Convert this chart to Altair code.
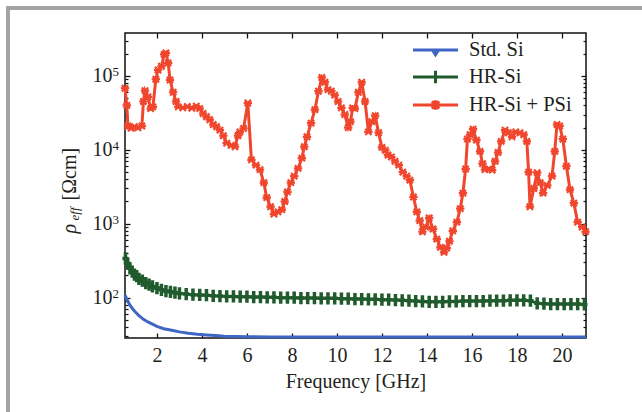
import altair as alt
import pandas as pd

# ---------------- data ----------------
series_names = ["Std. Si", "HR-Si", "HR-Si + PSi"]

std_f = [0.58, 0.7, 0.8, 0.9, 1.0, 1.2, 1.4, 1.6, 1.8, 2.0, 2.3, 2.6, 3.0, 3.4, 3.8,
         4.2, 4.6, 5.0, 5.5, 6.0, 7.0, 8.0, 9.0, 10.0, 12.0, 14.0, 16.0, 18.0, 20.0, 21.07]
std_r = [108, 90, 79, 72, 66, 57, 51, 47, 44, 41, 38, 36.5, 34.5, 33, 32,
         31.3, 30.7, 30.2, 29.9, 29.7, 29.5, 29.4, 29.3, 29.3, 29.3, 29.3, 29.3, 29.3, 29.3, 29.3]

hr_f = [0.6, 0.7, 0.8, 0.9, 1.0, 1.1, 1.2, 1.35, 1.5, 1.65, 1.8, 2.0, 2.2, 2.4, 2.6, 2.8,
        3.0, 3.3, 3.6, 3.9, 4.2, 4.5, 4.8, 5.1, 5.4, 5.7, 6.0, 6.3, 6.6, 6.9, 7.2, 7.5,
        7.8, 8.1, 8.4, 8.7, 9.0, 9.3, 9.6, 9.9, 10.2, 10.5, 10.8, 11.1, 11.4, 11.7, 12.0,
        12.3, 12.6, 12.9, 13.2, 13.5, 13.8, 14.1, 14.4, 14.7, 15.0, 15.3, 15.6, 15.9,
        16.2, 16.5, 16.8, 17.1, 17.4, 17.7, 18.0, 18.3, 18.6, 18.9, 19.2, 19.5, 19.8,
        20.1, 20.4, 20.7, 21.0]
hr_r = [340, 290, 250, 225, 205, 195, 180, 170, 158, 150, 142, 135, 128, 123, 120, 117,
        114, 112, 110, 109, 108, 106, 105, 104, 104, 103, 103, 102, 102, 101, 101, 100,
        100, 100, 99, 99, 99, 98, 98, 98, 97, 97, 96, 96, 95, 95, 94,
        94, 93, 92, 91, 90, 89, 88, 88, 88, 89, 89, 90, 90,
        90, 90, 91, 91, 91, 92, 92, 92, 91, 84, 83, 82, 82,
        82, 82, 82, 81]

psi_f = [0.58, 0.66, 0.71, 0.85, 1.0, 1.15, 1.33, 1.4, 1.47, 1.6, 1.72, 1.82, 1.95, 2.05,
         2.2, 2.32, 2.4, 2.5, 2.58, 2.72, 2.85, 2.95, 3.15, 3.35, 3.55, 3.75, 3.9, 4.05,
         4.2, 4.35, 4.5, 4.65, 4.8, 4.95, 5.1, 5.3, 5.47, 5.6, 5.69, 5.85, 6.04, 6.2,
         6.4, 6.58, 6.75, 6.88, 7.05, 7.2, 7.38, 7.55, 7.68, 7.8, 7.95, 8.1, 8.27, 8.44,
         8.55, 8.67, 8.85, 9.02, 9.18, 9.33, 9.47, 9.6, 9.75, 9.9, 10.05, 10.2, 10.35,
         10.5, 10.6, 10.7, 10.8, 10.95, 11.1, 11.25, 11.4, 11.55, 11.7, 11.85, 12.0,
         12.15, 12.27, 12.42, 12.58, 12.75, 12.93, 13.1, 13.24, 13.4, 13.55, 13.68, 13.8,
         13.95, 14.1, 14.27, 14.44, 14.6, 14.76, 14.88, 15.0, 15.15, 15.33, 15.48, 15.6,
         15.72, 15.8, 15.92, 16.05, 16.2, 16.36, 16.47, 16.58, 16.75, 16.9, 17.03, 17.16,
         17.3, 17.47, 17.62, 17.78, 17.95, 18.13, 18.3, 18.44, 18.52, 18.58, 18.75, 18.9,
         19.03, 19.16, 19.35, 19.56, 19.68, 19.78, 19.9, 20.04, 20.2, 20.36, 20.53, 20.7,
         20.9, 21.05]
psi_r = [68000, 40000, 21000, 19500, 20500, 19800, 21000, 45000, 63000, 52000, 36000, 38000,
         90000, 120000, 135000, 195000, 205000, 150000, 88000, 60000, 45000, 38000, 37000,
         38500, 36500, 39000, 36000, 31000, 28000, 25500, 22000, 20500, 18500, 15500,
         12300, 11500, 11000, 15500, 17500, 19500, 43000, 7300, 6200, 5400, 3600, 2250,
         1700, 1350, 1450, 1550, 2000, 2700, 3600, 4400, 5600, 7700, 11000, 15000, 23000,
         35000, 62000, 95000, 82000, 65000, 62000, 55000, 45000, 37000, 30000, 20000,
         24000, 37000, 36000, 60000, 82000, 45000, 17500, 24000, 29000, 17000, 10800,
         9800, 8500, 8000, 7000, 6200, 5000, 4400, 3900, 2300, 1450, 1100, 780, 900, 1200,
         850, 620, 480, 410, 470, 580, 800, 1050, 1600, 2600, 5500, 14000, 16000, 19000,
         13500, 9500, 6500, 5400, 5500, 5300, 7000, 9200, 13000, 18500, 17000, 15000,
         17500, 17000, 16000, 13000, 5000, 1700, 3000, 4900, 3600, 2600, 3300, 4400, 9500,
         22000, 21000, 14000, 6000, 2900, 1900, 1050, 900, 780]

x_ticks = [2, 4, 6, 8, 10, 12, 14, 16, 18, 20]
y_major = [100, 1000, 10000, 100000]
y_minor = [30, 40, 50, 60, 70, 80, 90, 200, 300, 400, 500, 600, 700, 800, 900,
           2000, 3000, 4000, 5000, 6000, 7000, 8000, 9000,
           20000, 30000, 40000, 50000, 60000, 70000, 80000, 90000, 200000, 300000]

# ---------------- style ----------------
FONT = "Liberation Serif, 'Times New Roman', Times, 'DejaVu Serif', serif"
TXT = "#231f20"
BLUE = "#3f66c4"
GREEN = "#1f5b2c"
RED = "#f0462d"
GRAY = "#a3a3a3"

W, H = 461, 305
xs = alt.Scale(domain=[0.58, 21.07], nice=False, zero=False)
ys = alt.Scale(type="log", domain=[28.5, 380000], nice=False)

std_df = pd.DataFrame({"f": std_f, "r": std_r})
hr_df = pd.DataFrame({"f": hr_f, "r": hr_r})
psi_df = pd.DataFrame({"f": psi_f, "r": psi_r})
legend_data = alt.Data(values=[{"series": s} for s in series_names])

NOAX = dict(domain=False, ticks=False, labels=False, grid=False)

# legend symbols: line + marker (unit = 13 px with symbolSize 676)
sym_paths = [
    "M-1.73,0L1.73,0M-0.2,0.06L0.2,0.06L0,0.36Z",
    "M-1.73,0L1.73,0M0,-0.48L0,0.48",
    "M-1.73,0L1.73,0M-0.28,-0.28L0.28,0.28M-0.28,0.28L0.28,-0.28M0,-0.36L0,0.36",
]

def y_title_axis(text, x, y, size, italic):
    return alt.Axis(orient="left", title=text, titleX=x, titleY=y, titleAngle=270,
                    titleAlign="left", titleBaseline="alphabetic", titleFont=FONT,
                    titleFontSize=size, titleFontWeight="normal",
                    titleFontStyle="italic" if italic else "normal",
                    titleColor=TXT, **NOAX)

# frame of the figure panel
frame = alt.Chart(alt.Data(values=[{"k": 0}])).mark_rect(
    fillOpacity=0, stroke=GRAY, strokeWidth=4, clip=False
).encode(x=alt.value(-117), x2=alt.value(540), y=alt.value(-25), y2=alt.value(400))

blue_line = alt.Chart(std_df).mark_line(color=BLUE, strokeWidth=3).encode(
    x=alt.X("f:Q", scale=xs, axis=alt.Axis(
        orient="bottom", values=x_ticks, offset=-5, tickSize=5, tickWidth=1.3,
        domain=False, grid=False, labelPadding=7, format="d",
        title="Frequency [GHz]", titlePadding=6)),
    y=alt.Y("r:Q", scale=ys, axis=alt.Axis(
        orient="left", values=y_major, offset=-5, tickSize=5, tickWidth=1.3,
        domain=False, grid=False, labelExpr="'10'", labelPadding=13, title=None)),
)

green_line = alt.Chart(hr_df).mark_line(color=GREEN, strokeWidth=3).encode(
    x=alt.X("f:Q", scale=xs, axis=alt.Axis(
        orient="top", values=x_ticks, offset=-5, tickSize=5, tickWidth=1.3,
        domain=False, grid=False, labels=False, title=None)),
    y=alt.Y("r:Q", scale=ys, axis=alt.Axis(
        orient="right", values=y_major, offset=-5, tickSize=5, tickWidth=1.3,
        domain=False, grid=False, labels=False, title=None)),
)

red_line = alt.Chart(psi_df).mark_line(color=RED, strokeWidth=3).encode(
    x=alt.X("f:Q", scale=xs, axis=None),
    y=alt.Y("r:Q", scale=ys, axis=alt.Axis(
        orient="left", values=y_minor, offset=-3, tickSize=3, tickWidth=1.2,
        domain=False, grid=False, labels=False, title=None)),
)

green_pts = alt.Chart(hr_df).mark_point(
    shape="M0,-1L0,1M-0.5,0L0.5,0", filled=False, size=150, strokeWidth=3.5,
    color=GREEN, opacity=1
).encode(
    x=alt.X("f:Q", scale=xs, axis=None),
    y=alt.Y("r:Q", scale=ys, axis=alt.Axis(
        orient="right", values=y_minor, offset=-3, tickSize=3, tickWidth=1.2,
        domain=False, grid=False, labels=False, title=None)),
)

red_pts = alt.Chart(psi_df).mark_point(
    shape="M-0.75,-0.75L0.75,0.75M-0.75,0.75L0.75,-0.75M-1,0L1,0",
    filled=False, size=70, strokeWidth=2.2, color=RED, opacity=1
).encode(
    x=alt.X("f:Q", scale=xs, axis=None),
    y=alt.Y("r:Q", scale=ys, axis=alt.Axis(
        orient="left", values=y_major, offset=0, ticks=False, tickSize=0,
        domain=False, grid=False,
        labelExpr="datum.value==100?'2':datum.value==1000?'3':datum.value==10000?'4':'5'",
        labelAlign="left", labelBaseline="alphabetic", labelPadding=13, labelFontSize=13,
        title=None)),
)

leg_common = dict(orient="none", legendX=296, legendY=2.5, title=None, padding=0,
                  labelFont=FONT, labelFontSize=20.5, labelColor=TXT,
                  symbolSize=676, symbolStrokeWidth=3, symbolOpacity=1,
                  labelOffset=19, rowPadding=1)

legend_layer = alt.Chart(legend_data).mark_point(filled=False, strokeWidth=3, opacity=1).encode(
    x=alt.X("f:Q", scale=xs, axis=None),
    y=alt.Y("r:Q", scale=ys, axis=y_title_axis("[Ωcm]", -49.5, 167, 20, False)),
    color=alt.Color("series:N", scale=alt.Scale(domain=series_names, range=[BLUE, GREEN, RED]),
                    legend=alt.Legend(**leg_common)),
    shape=alt.Shape("series:N", scale=alt.Scale(domain=series_names, range=sym_paths),
                    legend=alt.Legend(**leg_common)),
)

rho_layer = alt.Chart(legend_data).mark_point(opacity=0).encode(
    x=alt.X("f:Q", scale=xs, axis=None),
    y=alt.Y("r:Q", scale=ys, axis=y_title_axis("ρ", -50, 200, 20, True)),
)
eff_layer = alt.Chart(legend_data).mark_point(opacity=0).encode(
    x=alt.X("f:Q", scale=xs, axis=None),
    y=alt.Y("r:Q", scale=ys, axis=y_title_axis("eff", -46.5, 187, 13, True)),
)

chart = alt.layer(
    frame, blue_line, green_line, red_line, green_pts, red_pts, legend_layer, rho_layer, eff_layer
).resolve_axis(x="independent", y="independent").properties(
    width=W, height=H,
    padding={"left": 125, "top": 33, "right": 56, "bottom": 74},
    autosize=alt.AutoSizeParams(type="none"),
    background="white",
).configure_view(stroke="#111", strokeWidth=1.5).configure_axis(
    labelFont=FONT, labelFontSize=20, labelColor=TXT, tickColor="#111",
    titleFont=FONT, titleFontSize=20, titleFontWeight="normal", titleColor=TXT,
)

chart.save("out.html", embed_options={"renderer": "svg", "actions": False})
